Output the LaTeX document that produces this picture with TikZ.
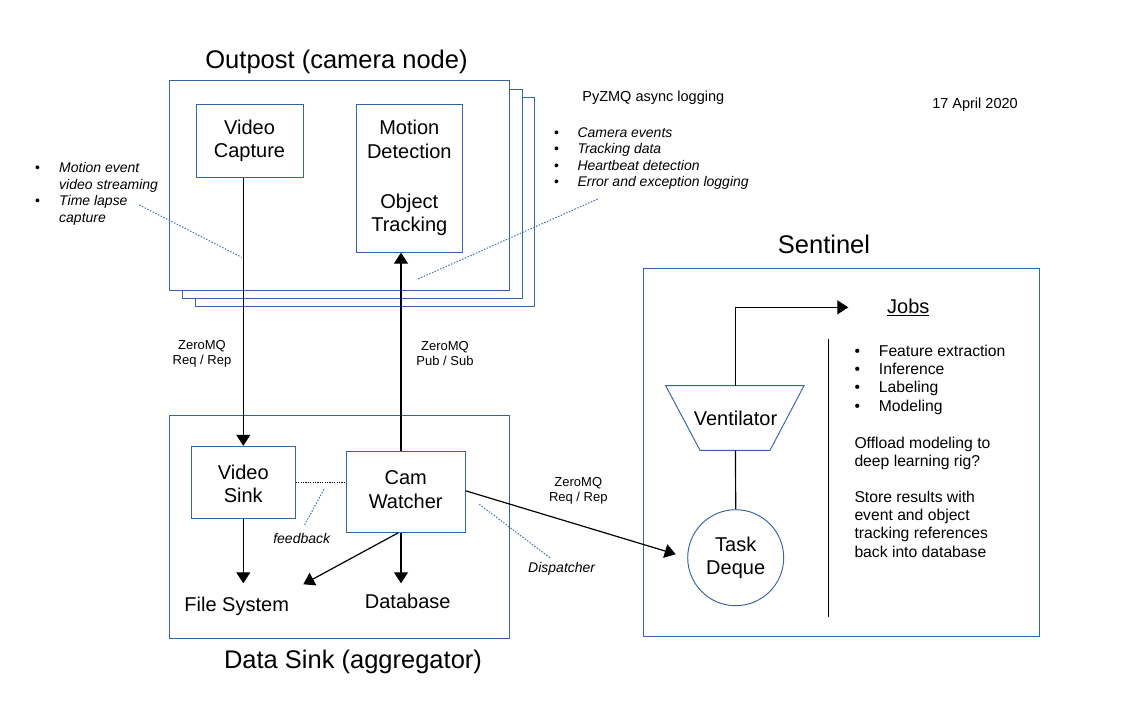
\documentclass[tikz,border=0pt]{standalone}
\usepackage{fontspec}
\setmainfont{Liberation Sans}
\usetikzlibrary{arrows.meta}
\definecolor{boxblue}{RGB}{52,101,164}
\definecolor{dotblue}{RGB}{68,114,196}
\newcommand{\twoline}[3]{\raisebox{#1}[\height][\depth]{\begin{tabular}{@{}c@{}}#2\\#3\end{tabular}}}
\begin{document}
\begin{tikzpicture}[x=1pt,y=-1pt,
  frame/.style={draw=boxblue, line width=0.95pt},
  box/.style={draw=boxblue, line width=0.95pt, inner sep=0pt, align=center, font=\fontsize{20}{23.5}\selectfont},
  conn/.style={line width=1.2pt, draw=black},
  arr/.style={conn, -{Triangle[length=11pt,width=14pt]}},
  callout/.style={draw=dotblue, line width=1pt, dash pattern=on 1.5pt off 1.5pt},
  big/.style={font=\fontsize{20}{23.5}\selectfont, align=center},
  title/.style={font=\fontsize{25.5}{30}\selectfont},
  small/.style={font=\fontsize{13}{15}\selectfont, align=center},
  note/.style={font=\fontsize{14}{16.5}\selectfont\itshape, align=left, inner sep=0pt, anchor=north west},
]
\useasboundingbox[fill=white] (0,0) rectangle (1122,720);

% Outpost stacked frames
\draw[frame, fill=white] (195,97) rectangle (534,306);
\draw[frame, fill=white] (182,89) rectangle (522,298);
\draw[frame, fill=white] (169,80) rectangle (509,290);
\node[title] (outposttitle) at (336.5,62) {Outpost (camera node)};

\node[box, minimum width=107pt, minimum height=73pt] (vc) at (249.5,140.7) {Video\\Capture};
\node[box, minimum width=106pt, minimum height=148pt] (md) at (409.3,178.2) {Motion\\Detection\\[26.5pt]Object\\Tracking};

% Data Sink
\draw[frame] (169.3,415.3) rectangle (509.3,638.3);
\node[title] (sinktitle) at (353,662) {Data Sink (aggregator)};
\node[box, minimum width=104pt, minimum height=72pt] (vs) at (243.3,482.3) {\twoline{-4pt}{Video}{Sink}};
\node[box, minimum width=119pt, minimum height=81pt] (cw) at (405.7,491.8) {\twoline{0pt}{Cam}{Watcher}};
\node[big] (fs) at (236.7,606.7) {File System};
\node[big] (db) at (407.7,601) {Database};
\coordinate (fsin) at (243.3,583.3);
\coordinate (fsin2) at (303.3,584.3);
\coordinate (dbin) at (401,583.3);

% Sentinel
\draw[frame] (643.3,268.3) rectangle (1039.3,636.7);
\node[title] (senttitle) at (824,244) {Sentinel};
\draw[frame] (665.7,385.7) -- (804,385.7) -- (770,450.3) -- (700,450.3) -- cycle;
\node[big, minimum width=70pt, minimum height=64.6pt, inner sep=0pt] (vent) at (735.5,418) {Ventilator};
\node[box, circle, minimum size=96pt] (td) at (735.7,557.7) {Task\\Deque};
\node[font=\fontsize{20}{24}\selectfont, inner sep=0pt, anchor=base] (jobs) at (908.3,313.5) {\underline{Jobs}};
\draw[conn] (828.7,338.7) -- (828.7,616.7);
\node[font=\fontsize{15.7}{18.2}\selectfont, align=left, inner sep=0pt, anchor=north west] (jobslist) at (854.3,345)
  {\makebox[24.4pt][l]{\textbullet}Feature extraction\\
   \makebox[24.4pt][l]{\textbullet}Inference\\
   \makebox[24.4pt][l]{\textbullet}Labeling\\
   \makebox[24.4pt][l]{\textbullet}Modeling};
\node[font=\fontsize{15.7}{18.2}\selectfont, align=left, inner sep=0pt, anchor=north west] (offload) at (854.3,436.5)
  {Offload modeling to\\deep learning rig?};
\node[font=\fontsize{15.7}{18.2}\selectfont, align=left, inner sep=0pt, anchor=north west] (store) at (854.3,491)
  {Store results with\\event and object\\tracking references\\back into database};

% Notes
\node[note] (leftnotes) at (35,162.5)
  {\makebox[24pt][l]{\upshape\textbullet}Motion event\\
   \hspace*{24pt}video streaming\\
   \makebox[24pt][l]{\upshape\textbullet}Time lapse\\
   \hspace*{24pt}capture};
\node[font=\fontsize{14.5}{17}\selectfont] (pyzmq) at (653.3,97.3) {PyZMQ async logging};
\node[note, font=\fontsize{14}{16.4}\selectfont\itshape] (rightnotes) at (554,127.3)
  {\makebox[23.3pt][l]{\upshape\textbullet}Camera events\\
   \makebox[23.3pt][l]{\upshape\textbullet}Tracking data\\
   \makebox[23.3pt][l]{\upshape\textbullet}Heartbeat detection\\
   \makebox[23.3pt][l]{\upshape\textbullet}Error and exception logging};
\node[font=\fontsize{14.5}{17}\selectfont] (date) at (975,105) {17 April 2020};

\node[small] (zq1) at (202,353.5) {ZeroMQ\\Req / Rep};
\node[small] (zq2) at (445,353.5) {ZeroMQ\\Pub / Sub};
\node[small] (zq3) at (578.3,491) {ZeroMQ\\Req / Rep};
\node[font=\fontsize{14}{16}\selectfont\itshape] (fb) at (301.7,538.3) {feedback};
\node[font=\fontsize{14}{16}\selectfont\itshape] (disp) at (561.7,569) {Dispatcher};

% Connectors
\draw[arr] (vc.south -| vs.north) -- (vs.north);
\draw[arr] ([xshift=-4.7pt]cw.north) -- ([xshift=-8.3pt]md.south);
\draw[arr] (vs.south) -- (fsin);
\draw[arr] ([xshift=-4.7pt]cw.south) -- (dbin);
\draw[arr] ([xshift=-7.4pt]cw.south) -- (fsin2);
\draw[arr, shorten >=12pt] ([yshift=1pt]cw.east) -- (td.west);
\draw[conn, line width=0.8pt, dash pattern=on 1.2pt off 1.2pt] (vs.east) -- (vs.east -| cw.west);
\draw[conn] (vent.south) -- (td.north);
\draw[arr] (vent.north) |- ([xshift=-38.7pt]jobs.west);

% Callouts
\draw[callout] (139.3,205) -- (241.7,257.3);
\draw[callout] (597.7,199) -- (417.3,279.3);
\draw[callout] (324,489.3) -- (304,526);
\draw[callout] (479.3,504.3) -- (550.7,558.3);
\end{tikzpicture}
\end{document}
